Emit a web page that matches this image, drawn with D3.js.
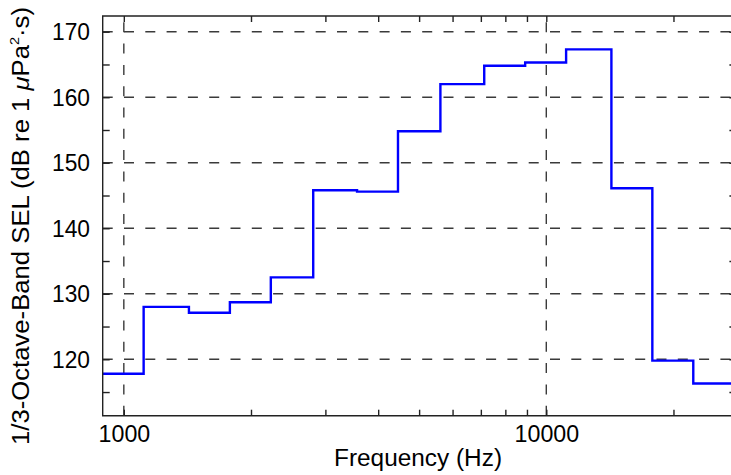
<!DOCTYPE html>
<html><head><meta charset="utf-8">
<script src="https://cdn.jsdelivr.net/npm/d3@7"></script>
<style>
html,body{margin:0;padding:0;background:#fff;}
svg{display:block;}
text{font-family:"Liberation Sans",Arial,Helvetica,sans-serif;fill:#000;}
</style></head>
<body>
<svg id="chart" width="731" height="475"></svg>
<script>
// Data: 1/3-octave band centre frequencies (Hz) and band SEL (dB re 1 µPa²·s)
const bandCenters = [1000, 1250, 1600, 2000, 2500, 3150, 4000, 5000, 6300, 8000, 10000, 12500, 16000, 20000, 25000];
const bandSEL     = [117.8, 128.0, 127.1, 128.7, 132.5, 145.8, 145.6, 154.8, 162.0, 164.8, 165.3, 167.3, 146.1, 119.8, 116.3];
const xTickMajor = [1000, 10000];
const xTickMinor = [1000, 2000, 3000, 4000, 5000, 6000, 7000, 8000, 9000, 10000, 20000];
const yTickMajor = [120, 130, 140, 150, 160, 170];
const yTickMinor = [115, 120, 125, 130, 135, 140, 145, 150, 155, 160, 165, 170];
const xDomain = [891.25, 28183.8];
const yDomain = [111.39, 172.4];

const svg = d3.select("#chart");
const L = 102.7, R = 736.4, T = 16, B = 415.7;
const x = d3.scaleLog().domain(xDomain).range([L, R]);
const y = d3.scaleLinear().domain(yDomain).range([B, T]);

const half = Math.pow(10, 0.05);
const steps = bandCenters.map((c, i) => ({f: c / half, v: bandSEL[i]}));
steps.push({f: bandCenters[bandCenters.length - 1] * half, v: bandSEL[bandSEL.length - 1]});

const gridColor = "#3a3a3a";
const dash = "10,11.3";

// horizontal grid
svg.append("g").selectAll("line").data(yTickMajor).join("line")
  .attr("x1", L).attr("x2", R)
  .attr("y1", d => y(d)).attr("y2", d => y(d))
  .attr("stroke", gridColor).attr("stroke-width", 1.4).attr("stroke-dasharray", dash);
// vertical grid
svg.append("g").selectAll("line").data(xTickMajor).join("line")
  .attr("x1", d => x(d)).attr("x2", d => x(d))
  .attr("y1", B).attr("y2", T)
  .attr("stroke", gridColor).attr("stroke-width", 1.4).attr("stroke-dasharray", dash);

// step line
const line = d3.line().x(d => x(d.f)).y(d => y(d.v)).curve(d3.curveStepAfter);
svg.append("path").datum(steps).attr("d", line)
  .attr("fill", "none").attr("stroke", "#0000ff").attr("stroke-width", 2.4)
  .attr("stroke-linejoin", "miter");

// frame
const frameColor = "#222";
svg.append("path")
  .attr("d", `M${L},${B}L${L},${T}L${R},${T}L${R},${B}Z`)
  .attr("fill", "none").attr("stroke", frameColor).attr("stroke-width", 1.4);

// ticks using axis generators
const hT = 7, vT = 6;
const axL = d3.axisRight(y).tickValues(yTickMinor).tickSize(hT).tickFormat("");
const axR = d3.axisLeft(y).tickValues(yTickMinor).tickSize(hT).tickFormat("");
const axB = d3.axisTop(x).tickValues(xTickMinor).tickSize(vT).tickFormat("");
const axT = d3.axisBottom(x).tickValues(xTickMinor).tickSize(vT).tickFormat("");
[[axL, `translate(${L},0)`], [axR, `translate(${R},0)`], [axB, `translate(0,${B})`], [axT, `translate(0,${T})`]]
  .forEach(([ax, tr]) => {
    const g = svg.append("g").attr("transform", tr).call(ax);
    g.select(".domain").remove();
    g.selectAll("line").attr("stroke", frameColor).attr("stroke-width", 1.4);
  });

// y tick labels
svg.append("g").selectAll("text").data(yTickMajor).join("text")
  .attr("x", 90).attr("y", d => y(d) + 8.6)
  .attr("text-anchor", "end").attr("font-size", 23)
  .attr("textLength", 38).attr("lengthAdjust", "spacingAndGlyphs")
  .text(d => d);

// x tick labels
svg.append("g").selectAll("text").data(xTickMajor).join("text")
  .attr("x", d => x(d) + 0.6).attr("y", 441.5)
  .attr("text-anchor", "middle").attr("font-size", 23)
  .attr("textLength", d => String(d).length * 12.9).attr("lengthAdjust", "spacingAndGlyphs")
  .text(d => d);

// x axis title
svg.append("text").attr("x", 418).attr("y", 466)
  .attr("text-anchor", "middle").attr("font-size", 23)
  .attr("textLength", 168).attr("lengthAdjust", "spacingAndGlyphs")
  .text("Frequency (Hz)");

// y axis title
const yt = svg.append("text")
  .attr("transform", "translate(28.5,226) rotate(-90)")
  .attr("text-anchor", "middle").attr("font-size", 23)
  .attr("textLength", 438).attr("lengthAdjust", "spacingAndGlyphs");
yt.append("tspan").text("1/3-Octave-Band SEL (dB re 1 ");
yt.append("tspan").attr("font-style", "italic").text("\u03BC");
yt.append("tspan").text("Pa");
yt.append("tspan").attr("font-size", 13).attr("dy", -10).text("2");
yt.append("tspan").attr("dy", 10).text("\u00B7s)");
</script>
</body></html>
